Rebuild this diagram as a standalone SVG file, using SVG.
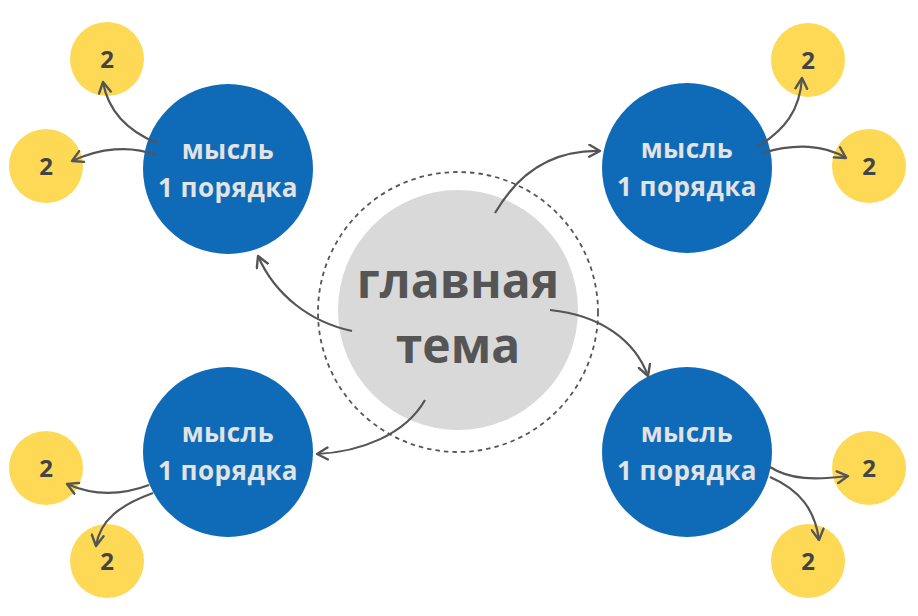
<svg xmlns="http://www.w3.org/2000/svg" width="918" height="616" viewBox="0 0 918 616">
<defs>
<style>
.main{fill:#d9d9d9}
.ring{fill:none;stroke:#555;stroke-width:1.8;stroke-dasharray:4.5 4}
.blue{fill:#0f6bb8}
.yel{fill:#fdd955}
.t1{font-family:"Open Sans","Noto Sans",sans-serif;font-weight:700;fill:#555;font-size:48px;text-anchor:middle}
.t2{font-family:"Open Sans","Noto Sans",sans-serif;font-weight:700;fill:#e3e3e3;font-size:26px;letter-spacing:0.5px;text-anchor:middle}
.t3{font-family:"Open Sans","Noto Sans",sans-serif;font-weight:700;fill:#444;font-size:24px;text-anchor:middle}
.arr{fill:none;stroke:#555;stroke-width:2.2;marker-end:url(#ah)}
</style>
<marker id="ah" viewBox="0 0 12 12" refX="10" refY="6" markerWidth="6.5" markerHeight="6.5" orient="auto" markerUnits="strokeWidth">
<path d="M1,1 L10,6 L1,11" fill="none" stroke="#555" stroke-width="2" stroke-linecap="round" stroke-linejoin="round"/>
</marker>
</defs>
<rect width="918" height="616" fill="#ffffff"/>
<g id="main-topic">
<circle class="ring" cx="458" cy="312" r="140"/>
<circle class="main" cx="458" cy="310" r="120"/>
<text class="t1" x="458" y="298">главная</text>
<text class="t1" x="458" y="363">тема</text>
</g>
<g id="node-tl">
<circle class="blue" cx="228" cy="169" r="85"/>
<text class="t2" x="228" y="159">мысль</text>
<text class="t2" x="228" y="197">1 порядка</text>
</g>
<g id="node-tr">
<circle class="blue" cx="687" cy="168" r="85"/>
<text class="t2" x="687" y="158">мысль</text>
<text class="t2" x="687" y="196">1 порядка</text>
</g>
<g id="node-bl">
<circle class="blue" cx="228" cy="452" r="85"/>
<text class="t2" x="228" y="442">мысль</text>
<text class="t2" x="228" y="480">1 порядка</text>
</g>
<g id="node-br">
<circle class="blue" cx="687" cy="452" r="85"/>
<text class="t2" x="687" y="442">мысль</text>
<text class="t2" x="687" y="480">1 порядка</text>
</g>
<g id="y-tl-top"><circle class="yel" cx="107" cy="59" r="37"/><text class="t3" x="107" y="68">2</text></g>
<g id="y-tl-left"><circle class="yel" cx="46" cy="166" r="37"/><text class="t3" x="46" y="175">2</text></g>
<g id="y-tr-top"><circle class="yel" cx="808" cy="60" r="37"/><text class="t3" x="808" y="69">2</text></g>
<g id="y-tr-right"><circle class="yel" cx="869" cy="166" r="37"/><text class="t3" x="869" y="175">2</text></g>
<g id="y-bl-left"><circle class="yel" cx="46" cy="468" r="37"/><text class="t3" x="46" y="477">2</text></g>
<g id="y-bl-bottom"><circle class="yel" cx="107" cy="561" r="37"/><text class="t3" x="107" y="570">2</text></g>
<g id="y-br-right"><circle class="yel" cx="869" cy="468" r="37"/><text class="t3" x="869" y="477">2</text></g>
<g id="y-br-bottom"><circle class="yel" cx="808" cy="561" r="37"/><text class="t3" x="808" y="570">2</text></g>
<g id="connectors">
<path class="arr" d="M352,331 C310,322 275,295 258,256"/>
<path class="arr" d="M495,213 C520,170 555,150 600,151"/>
<path class="arr" d="M550,310 C600,315 635,340 648,376"/>
<path class="arr" d="M425,400 C405,435 360,452 317,454"/>
<path class="arr" d="M157,143 C125,130 108,110 103,82"/>
<path class="arr" d="M156,155 C130,145 100,148 72,161"/>
<path class="arr" d="M757,147 C785,130 800,110 802,78"/>
<path class="arr" d="M763,153 C795,143 825,145 846,158"/>
<path class="arr" d="M149,485 C120,496 92,495 67,484"/>
<path class="arr" d="M153,493 C120,505 100,520 96,546"/>
<path class="arr" d="M770,467 C790,480 815,480 848,476"/>
<path class="arr" d="M770,477 C800,490 815,510 819,540"/>
</g>
</svg>
